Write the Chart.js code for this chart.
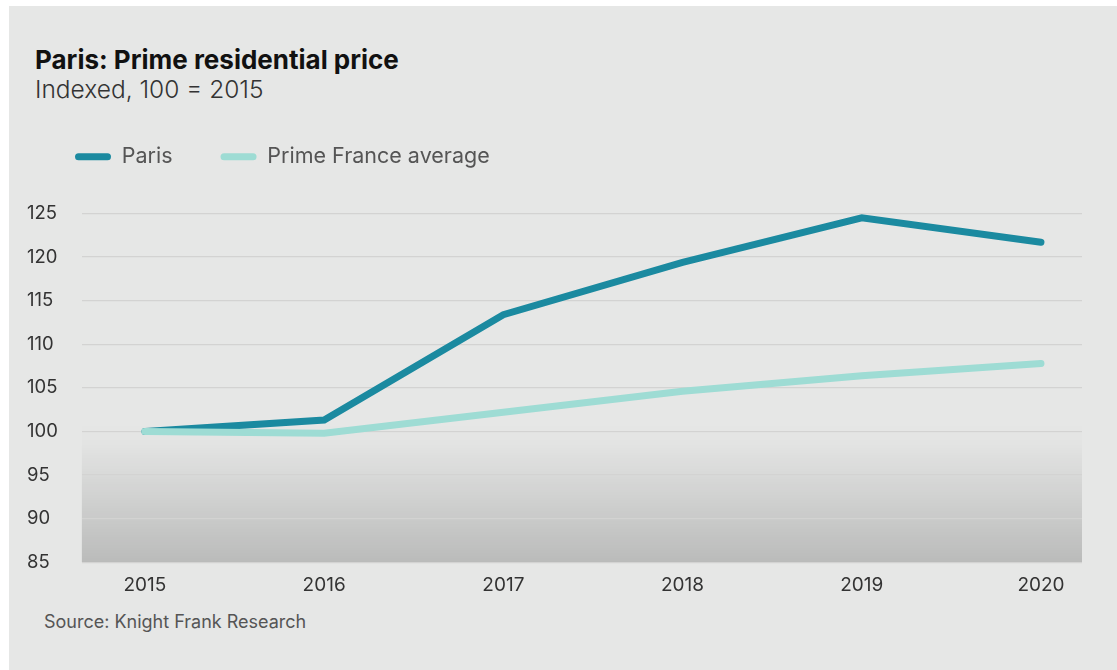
<!DOCTYPE html>
<html>
<head>
<meta charset="utf-8">
<script src="https://cdn.jsdelivr.net/npm/chart.js@4/dist/chart.umd.min.js"></script>
<style>
  html, body { margin: 0; padding: 0; background: #ffffff; width: 1117px; height: 670px; overflow: hidden; }
  #panel { position: absolute; left: 9px; top: 6px; width: 1108px; height: 664px; background: #e6e7e6; }
  .txt { position: absolute; font-family: Inter, Roboto, "Liberation Sans", sans-serif; white-space: nowrap; line-height: 1.2; }
  #title { left: 35px; top: 44px; font-size: 26px; font-weight: 700; color: #111; }
  #subtitle { left: 35px; top: 75px; font-size: 24.5px; font-weight: 300; color: #333; }
  #source { left: 44px; top: 611px; font-size: 18px; color: #555; }
  #wrap { position: absolute; left: 9px; top: 98px; width: 1108px; height: 512px; }
</style>
</head>
<body>
<div id="panel"></div>
<div class="txt" id="title">Paris: Prime residential price</div>
<div class="txt" id="subtitle">Indexed, 100 = 2015</div>
<div id="wrap"><canvas id="c"></canvas></div>
<div class="txt" id="source">Source: Knight Frank Research</div>
<script>
const years = [2015, 2016, 2017, 2018, 2019, 2020];
const paris = [100, 101.3, 113.4, 119.4, 124.5, 121.7];
const franceAvg = [100, 99.8, 102.2, 104.6, 106.4, 107.8];
const yTicks = [85, 90, 95, 100, 105, 110, 115, 120, 125];
const seriesNames = ['Paris', 'Prime France average'];
const seriesColors = ['#1b8aa0', '#9edcd4'];
const FONT = 'Inter, Roboto, "Liberation Sans", sans-serif';

const bgPlugin = {
  id: 'plotBg',
  beforeDraw(chart) {
    const { ctx, chartArea: a } = chart;
    const g = ctx.createLinearGradient(0, a.top, 0, a.bottom);
    g.addColorStop(0, 'rgba(0,0,0,0)');
    g.addColorStop(0.6, 'rgba(0,0,0,0)');
    g.addColorStop(0.66, 'rgba(0,0,0,0.01)');
    g.addColorStop(1, 'rgba(0,0,0,0.19)');
    ctx.save();
    ctx.fillStyle = g;
    ctx.fillRect(a.left, a.top, a.right - a.left, a.bottom - a.top);
    ctx.restore();
  }
};

const legendGap = {
  id: 'legendGap',
  beforeInit(chart) {
    const origFit = chart.legend.fit;
    chart.legend.fit = function () {
      origFit.call(this);
      this.height += 36;
    };
  }
};

new Chart(document.getElementById('c'), {
  type: 'line',
  data: {
    datasets: [
      { label: seriesNames[0], data: years.map((x, i) => ({ x, y: paris[i] })), borderColor: seriesColors[0], backgroundColor: seriesColors[0] },
      { label: seriesNames[1], data: years.map((x, i) => ({ x, y: franceAvg[i] })), borderColor: seriesColors[1], backgroundColor: seriesColors[1] }
    ].reverse()
  },
  options: {
    responsive: true,
    maintainAspectRatio: false,
    animation: false,
    layout: { padding: { left: 18, right: 35, top: 0, bottom: 1 } },
    elements: {
      line: { borderWidth: 7, borderCapStyle: 'round', borderJoinStyle: 'miter', tension: 0 },
      point: { radius: 0, hoverRadius: 0 }
    },
    plugins: {
      tooltip: { enabled: false },
      legend: {
        position: 'top',
        align: 'start',
        labels: {
          font: { family: FONT, size: 21.5 },
          color: '#555',
          boxWidth: 36,
          boxHeight: 7,
          padding: 48,
          useBorderRadius: true,
          borderRadius: 3.5,
          generateLabels(chart) {
            return seriesNames.map((n, i) => ({
              text: n, fillStyle: seriesColors[i], strokeStyle: 'rgba(0,0,0,0)', lineWidth: 0,
              fontColor: '#555', datasetIndex: i, hidden: false, borderRadius: 3.5
            }));
          }
        }
      }
    },
    scales: {
      x: {
        type: 'linear',
        min: 2014.648,
        max: 2020.229,
        grid: { display: false, drawTicks: false },
        border: { display: false },
        afterBuildTicks(scale) { scale.ticks = years.map(v => ({ value: v })); },
        ticks: {
          callback: v => String(v),
          font: { family: FONT, size: 19 },
          color: '#333',
          padding: 12,
          maxRotation: 0
        }
      },
      y: {
        min: 85,
        max: 125,
        afterBuildTicks(scale) { scale.ticks = yTicks.map(v => ({ value: v })); },
        grid: { color: '#d3d3d2', lineWidth: 1.2, drawTicks: false },
        border: { display: false },
        ticks: {
          crossAlign: 'far',
          font: { family: FONT, size: 18.5 },
          color: '#333',
          padding: 12
        }
      }
    }
  },
  plugins: [bgPlugin, legendGap]
});
</script>
</body>
</html>
